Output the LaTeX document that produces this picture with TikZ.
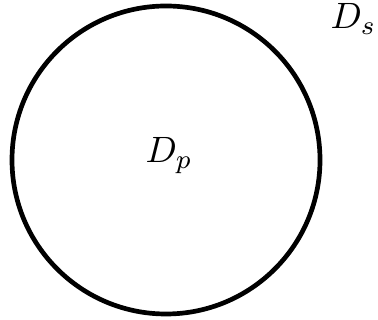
\documentclass[tikz,border=0pt]{standalone}
\begin{document}
\begin{tikzpicture}[
    x=0.0105cm, y=-0.0105cm,
    rim/.style={draw=black, line width=1.4pt},
    lbl/.style={inner sep=0pt, anchor=base west, font=\fontsize{11}{13}\selectfont}
]
    \useasboundingbox (0,0) rectangle (378,320);
    \node[rim, circle, minimum size=308*0.0105cm, inner sep=0pt] (dom) at (166,160) {};
    \node[lbl] (dp) at (145,163) {$D_p$};
    \node[lbl] (ds) at (330,29) {$D_s$};
\end{tikzpicture}
\end{document}
